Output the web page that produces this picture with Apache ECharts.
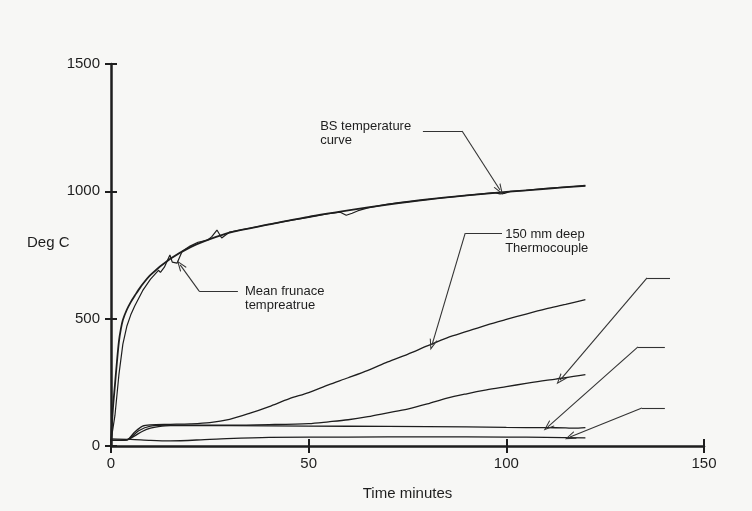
<!DOCTYPE html>
<html>
<head>
<meta charset="utf-8">
<script src="https://cdn.jsdelivr.net/npm/echarts@6/dist/echarts.min.js"></script>
<style>
  html, body { margin: 0; padding: 0; background: #f7f7f5; }
  #chart { width: 752px; height: 511px; }
</style>
</head>
<body>
<div id="chart"></div>
<script>
// BS (standard) furnace curve
const bsTime = [0, 0.5, 1, 1.5, 2, 2.5, 3, 4, 5, 6, 7.5, 10, 15, 20, 25, 30, 40, 50, 60, 70, 80, 90, 100, 110, 120];
const bsTemp = [20, 150, 240, 330, 410, 460, 495, 535, 565, 590, 625, 672, 735, 780, 812, 838, 870, 900, 925, 948, 968, 984, 998, 1010, 1022];

// measured mean furnace temperature (jagged)
const furnTime = [0, 1, 2, 3, 4, 5, 6, 8, 10, 12, 12.5, 13.5, 14.9, 15.5, 16.7, 18, 20, 22, 24.5, 25.5, 26.8, 28, 30, 35, 40, 45, 50, 55, 58, 59.5, 61, 62.5, 65, 70, 80, 90, 97, 98.4, 99.5, 101, 105, 110, 115, 120];
const furnTemp = [20, 120, 280, 400, 470, 515, 550, 610, 655, 690, 682, 702, 750, 722, 718, 765, 785, 800, 809, 822, 848, 817, 840, 855, 870, 885, 898, 912, 918, 906, 914, 924, 935, 950, 968, 984, 995, 990, 992, 1000, 1004, 1012, 1017, 1022];

// 150 mm deep thermocouple
const tcATime = [0, 4, 6, 8, 10, 15, 20, 25, 30, 35, 40, 45, 50, 55, 60, 65, 70, 75, 80, 85, 90, 95, 100, 105, 110, 115, 120];
const tcATemp = [22, 24, 55, 78, 83, 85, 87, 92, 105, 128, 155, 185, 210, 240, 268, 297, 330, 360, 393, 425, 450, 475, 497, 518, 538, 556, 575];

// second thermocouple
const tcBTime = [0, 4, 7, 10, 15, 20, 30, 40, 50, 55, 60, 65, 70, 75, 80, 85, 90, 95, 100, 105, 110, 115, 120];
const tcBTemp = [22, 24, 60, 78, 82, 82, 82, 84, 88, 95, 103, 115, 130, 145, 165, 188, 205, 220, 233, 246, 258, 268, 280];

// third thermocouple (stays near 75)
const tcCTime = [0, 4, 6, 8, 10, 12, 15, 30, 50, 70, 90, 100, 110, 115, 117, 120];
const tcCTemp = [22, 24, 40, 58, 70, 76, 80, 80, 78, 77, 75, 73, 72, 71, 70, 72];

// lowest thermocouple
const tcDTime = [0, 5, 10, 15, 25, 40, 60, 80, 100, 110, 120];
const tcDTemp = [28, 26, 22, 20, 26, 34, 35, 36, 35, 34, 32];

// axis ticks
const xTicks = { min: 0, max: 150, step: 50 };
const yTicks = { min: 0, max: 1500, step: 500 };

// leader lines: [from, to, arrow?]
const leaders = [
  [[78.9, 1237], [88.8, 1237], false],
  [[88.8, 1237], [98.4, 1005], true],
  [[32.1, 608], [22.3, 608], false],
  [[22.3, 608], [17.5, 711], true],
  [[98.9, 836], [89.6, 836], false],
  [[89.6, 836], [81.2, 397], true],
  [[141.4, 660], [135.6, 660], false],
  [[135.6, 660], [113.6, 259], true],
  [[140.1, 389], [133.3, 389], false],
  [[133.3, 389], [110.5, 75], true],
  [[140.1, 149], [134.3, 149], false],
  [[134.3, 149], [116.1, 35], true]
];

// annotation texts with their top-left anchor in data units
const notes = [
  { at: [52.9, 1284], text: 'BS temperature\ncurve' },
  { at: [33.9, 636], text: 'Mean frunace\ntempreatrue' },
  { at: [99.7, 860], text: '150 mm deep\nThermocouple' }
];

const INK = '#1e1e1e';
const chevron = 'path://M5,0L10,12L8.6,12L5,3.2L1.4,12L0,12Z';

function pairs(xs, ys) {
  return xs.map((x, i) => [x, ys[i]]);
}

function curve(name, xs, ys, width, smooth) {
  return {
    name: name,
    type: 'line',
    data: pairs(xs, ys),
    showSymbol: false,
    smooth: smooth,
    lineStyle: { color: INK, width: width },
    emphasis: { disabled: true },
    silent: true
  };
}

let series = [
  curve('BS', bsTime, bsTemp, 1.8, 0.3),
  curve('Furnace', furnTime, furnTemp, 1.2, false),
  curve('A', tcATime, tcATemp, 1.3, 0.3),
  curve('B', tcBTime, tcBTemp, 1.3, 0.3),
  curve('C', tcCTime, tcCTemp, 1.3, 0.3),
  curve('D', tcDTime, tcDTemp, 1.3, 0.3)
];

// annotations hang on the BS series
series[0].markLine = {
  silent: true,
  animation: false,
  symbol: ['none', 'none'],
  label: { show: false },
  lineStyle: { color: '#333', width: 1.1, type: 'solid' },
  data: leaders.map(l => [
    { coord: l[0], symbol: 'none' },
    { coord: l[1], symbol: l[2] ? chevron : 'none', symbolSize: [8, 11] }
  ])
};
series[0].markPoint = {
  silent: true,
  animation: false,
  symbol: 'circle',
  symbolSize: 0,
  data: notes.map(n => ({
    coord: n.at,
    label: {
      show: true,
      formatter: n.text,
      position: [0, 0],
      align: 'left',
      verticalAlign: 'top',
      color: INK,
      fontFamily: 'Liberation Sans',
      fontSize: 13,
      lineHeight: 14
    }
  }))
};

const axisFont = { color: INK, fontFamily: 'Liberation Sans', fontSize: 15 };
const plain = v => String(v);

let chart = echarts.init(document.getElementById('chart'));
chart.setOption({
  backgroundColor: '#f7f7f5',
  animation: false,
  grid: { left: 111, right: 48, top: 64, bottom: 65, containLabel: false },
  xAxis: [
    {
      type: 'value', min: xTicks.min, max: xTicks.max, interval: xTicks.step,
      position: 'bottom',
      name: 'Time minutes', nameLocation: 'middle', nameGap: 40,
      nameTextStyle: axisFont,
      axisLine: { show: true, lineStyle: { color: INK, width: 2.5 } },
      axisTick: { show: true, length: 7, lineStyle: { color: INK, width: 2 } },
      axisLabel: Object.assign({ margin: 10, formatter: plain }, axisFont),
      splitLine: { show: false }
    },
    {
      type: 'value', min: xTicks.min, max: xTicks.max, interval: xTicks.step,
      position: 'bottom',
      axisLine: { show: false },
      axisTick: { show: true, inside: true, length: 7, lineStyle: { color: INK, width: 2 } },
      axisLabel: { show: false },
      splitLine: { show: false }
    }
  ],
  yAxis: [
    {
      type: 'value', min: yTicks.min, max: yTicks.max, interval: yTicks.step,
      position: 'left',
      axisLine: { show: true, lineStyle: { color: INK, width: 2.5 } },
      axisTick: { show: true, length: 6, lineStyle: { color: INK, width: 2 } },
      axisLabel: Object.assign({ margin: 11, formatter: plain }, axisFont),
      splitLine: { show: false }
    },
    {
      type: 'value', min: yTicks.min, max: yTicks.max, interval: yTicks.step,
      position: 'left',
      axisLine: { show: false },
      axisTick: { show: true, inside: true, length: 6, lineStyle: { color: INK, width: 2 } },
      axisLabel: { show: false },
      splitLine: { show: false }
    }
  ],
  graphic: [
    {
      type: 'text', left: 27, top: 235,
      style: { text: 'Deg C', fill: INK, font: '15px "Liberation Sans"' }
    }
  ],
  series: series
});
</script>
</body>
</html>
